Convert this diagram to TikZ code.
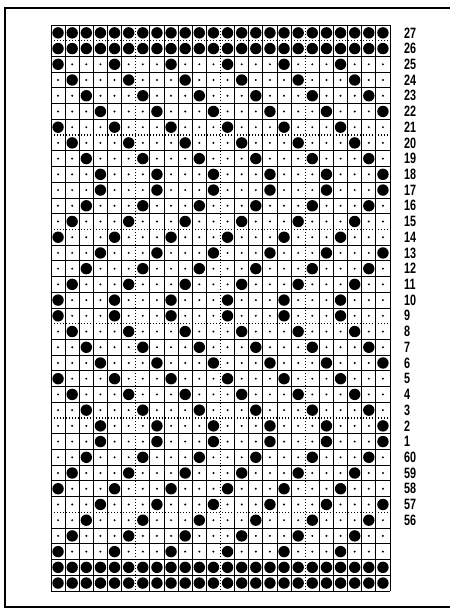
\documentclass[tikz,border=0pt]{standalone}
\usepackage{fontspec}
\newfontfamily\lblfont{Liberation Sans}
\begin{document}
\begin{tikzpicture}[x=1pt,y=-1pt,
  gridline/.style={line width=0.8pt,black},
  dotline/.style={line width=1.4pt,black,dash pattern=on 1.3pt off 1.7pt},
  framebox/.style={line width=2pt,black},
  rowlabel/.style={anchor=west,inner sep=0pt,font=\lblfont\bfseries\fontsize{15}{15}\selectfont}]
\useasboundingbox (0,0) rectangle (450,611);
\def\gx{51}
\def\gy{25}
\def\cw{14.125}
\def\ch{15.72}
% outer frame
\draw[framebox] (452,8) -- (5,8) -- (5,607) -- (452,607);
% solid vertical grid lines
\foreach \i in {0,1,2,3,4,5,7,8,9,10,11,13,14,15,16,17,19,20,21,22,23,24}
  \draw[gridline] ({\gx+\i*\cw},\gy) -- ({\gx+\i*\cw},{\gy+36*\ch});
% solid horizontal grid lines
\foreach \j in {0,2,3,4,5,6,8,9,10,11,12,14,15,16,17,18,20,21,22,23,24,26,27,28,29,30,32,33,34,35,36}
  \draw[gridline] (\gx,{\gy+\j*\ch}) -- ({\gx+24*\cw},{\gy+\j*\ch});
% dotted lines
\foreach \i in {6,12,18}
  \draw[dotline] ({\gx+\i*\cw},\gy) -- ({\gx+\i*\cw},{\gy+36*\ch});
\foreach \j in {1,7,13,19,25,31}
  \draw[dotline] (\gx,{\gy+\j*\ch}) -- ({\gx+24*\cw},{\gy+\j*\ch});
% cell contents
\foreach \s [count=\r from 0] in {0,0,1,2,3,4,1,2,3,4,4,3,2,1,4,3,2,1,1,2,3,4,1,2,3,4,4,3,2,1,4,3,2,1,0,0} {
  \foreach \c in {1,...,24} {
    \pgfmathtruncatemacro\isbig{(\s==0)||(mod(\c-\s+8,4)==0)}
    \ifnum\isbig=1
      \fill ({\gx+(\c-0.5)*\cw},{\gy+(\r+0.5)*\ch}) circle[radius=5.7pt];
    \else
      \fill ({\gx+(\c-0.5)*\cw},{\gy+(\r+0.5)*\ch}) circle[radius=1.1pt];
    \fi
  }
}
% row labels
\foreach \t [count=\k from 0] in {27,26,25,24,23,22,21,20,19,18,17,16,15,14,13,12,11,10,9,8,7,6,5,4,3,2,1,60,59,58,57,56}
  \node[rowlabel] (lab\k) at (404,{\gy+(\k+0.5)*\ch}) {\scalebox{0.72}[1]{\t}};
\end{tikzpicture}
\end{document}
